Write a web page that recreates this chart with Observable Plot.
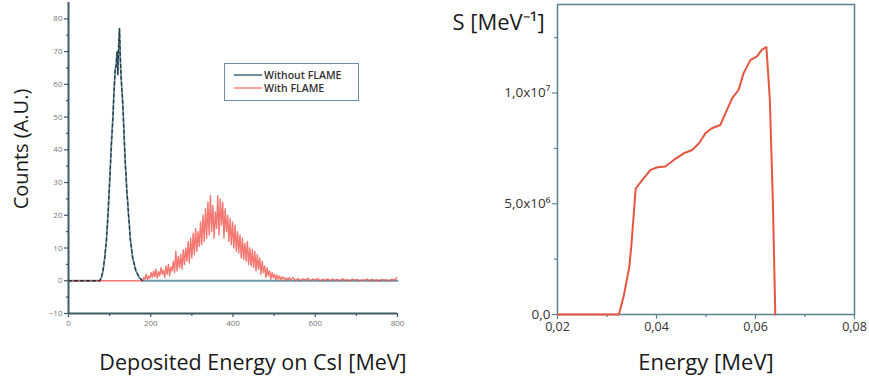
<!DOCTYPE html>
<html>
<head>
<meta charset="utf-8">
<script src="https://cdn.jsdelivr.net/npm/d3@7"></script>
<script src="https://cdn.jsdelivr.net/npm/@observablehq/plot@0.6"></script>
<style>
  html, body { margin: 0; padding: 0; background: #fff; }
  #wrap { position: relative; width: 869px; height: 381px; overflow: hidden; font-family: "Open Sans", sans-serif; }
  #left { position: absolute; left: 0; top: 0; }
  #right { position: absolute; left: 420px; top: 0; }
  #legend { position: absolute; left: 224px; top: 63px; width: 133px; height: 36px; border: 1px solid #6a8f9e; background: #fff; }
  .row { position: absolute; left: 0; height: 12px; width: 132px; }
  .sw { position: absolute; left: 9px; top: 5px; width: 28px; height: 2px; }
  .lab { position: absolute; left: 39px; top: 0px; font-size: 10.5px; font-weight: 600; color: #333; line-height: 12px; white-space: nowrap; }
</style>
</head>
<body>
<div id="wrap">
  <div id="left"></div>
  <div id="right"></div>
  <div id="legend"></div>
</div>
<script>
// ---------- Left chart data ----------
const leftYTicks = [-10, 0, 10, 20, 30, 40, 50, 60, 70, 80];
const leftYMinor = [-5, 5, 15, 25, 35, 45, 55, 65, 75];
const leftXTicks = [0, 200, 400, 600, 800];
const leftXMinor = [100, 300, 500, 700];

const seriesNames = ["Without FLAME", "With FLAME"];

const withoutEnergy = [0, 76, 80, 84, 88, 92, 96, 100, 104, 108, 110, 112, 114, 116, 118, 120, 122, 124, 126, 128, 130, 132, 134, 136, 138, 140, 142, 144, 146, 148, 150, 152, 154, 156, 158, 160, 164, 168, 172, 176, 180, 800];
const withoutCounts = [0, 0, 1, 3, 7, 12, 20, 30, 41, 50, 56, 61, 65, 66, 70, 63, 72, 77, 68, 62, 58, 54, 48, 42, 36, 32, 27, 24, 20, 17, 13, 11, 9, 7, 6, 5, 3, 2, 1, 0.5, 0, 0];

const withEnergy = [0, 177, ...d3.range(180, 541, 3), ...d3.range(546, 799, 6)];
const withCounts = [0, 0,
  0, 1, 0.5, 2, 0.3, 1.5, 0.8, 2.5, 1, 3,
  1.2, 3.5, 0.8, 2.8, 1.5, 4, 2, 3.2, 1, 4.5,
  2, 5, 1.5, 4.2, 3, 6, 2.5, 9, 3, 7.5,
  4, 8, 3.5, 9.5, 5, 10, 6, 12, 5.5, 13,
  7, 14.5, 8, 16, 9, 15, 10.5, 18, 11, 20,
  12, 22, 13, 24, 14, 26, 15, 23, 13, 21,
  16, 26, 14, 25, 17, 24, 13, 22, 15, 20,
  12, 19, 11, 18, 10, 17, 9, 15, 8.5, 14,
  7, 13, 6.5, 11.5, 6, 12, 5, 10, 4.5, 9.5,
  4, 9, 3, 8, 3.5, 7, 2, 6, 2.5, 4.5,
  1, 4, 1.5, 3, 0.5, 2.5, 1, 2, 0.3, 1.8,
  0.5, 1.5, 0.2, 1.2, 0.6, 1, 0, 0.8, 0.3, 1,
  0.2,
  0.9, 0.1, 0.7, 0, 0.6, 0.2, 0.8, 0, 0.5, 0.3,
  0.7, 0, 0.4, 0.1, 0.6, 0, 0.5, 0.2, 0.4, 0,
  0.6, 0.1, 0.3, 0, 0.5, 0.2, 0.4, 0, 0.3, 0.1,
  0.5, 0, 0.4, 0.1, 0.3, 0, 0.4, 0.2, 0.3, 0,
  0.5, 0.1, 0.9
];

// ---------- Right chart data ----------
const rightXTicks = [0.02, 0.04, 0.06, 0.08];
const rightXLabels = ["0,02", "0,04", "0,06", "0,08"];
const rightXMinor = [0.03, 0.05, 0.07];
const rightYTicks = [0, 5e6, 1e7];
const rightYLabels = ["0,0", "5,0x10⁶", "1,0x10⁷"];
const rightYMinor = [2.5e6, 7.5e6, 1.25e7];

const spectrumEnergy = [0.02, 0.0324, 0.0334, 0.0345, 0.0349, 0.0358, 0.0371, 0.0388, 0.0402, 0.0418, 0.0435, 0.0455, 0.0472, 0.0486, 0.0499, 0.0512, 0.0529, 0.0541, 0.0553, 0.0566, 0.0576, 0.0590, 0.0603, 0.0613, 0.0622, 0.0629, 0.0635, 0.0640];
const spectrumS = [0, 0, 0.86e6, 2.14e6, 3.05e6, 5.69e6, 6.07e6, 6.53e6, 6.65e6, 6.68e6, 6.98e6, 7.28e6, 7.43e6, 7.73e6, 8.19e6, 8.41e6, 8.56e6, 9.17e6, 9.77e6, 10.15e6, 10.9e6, 11.5e6, 11.66e6, 11.96e6, 12.08e6, 9.7e6, 5.17e6, 0];

// ---------- Colors ----------
const axisColor = "#3d5a66";
const tealColor = "#6c9aab";
const blackColor = "#27353b";
const redColor = "#f0443a";

const withoutData = withoutEnergy.map((e, i) => ({e, c: withoutCounts[i]}));
const withData = withEnergy.map((e, i) => ({e, c: withCounts[i]}));
const spectrum = spectrumEnergy.map((e, i) => ({e, s: spectrumS[i]}));

const left = Plot.plot({
  width: 420, height: 381,
  marginLeft: 68, marginRight: 23, marginTop: 2, marginBottom: 68,
  x: {domain: [0, 800]},
  y: {domain: [-10, 85]},
  style: {fontFamily: "Open Sans, sans-serif", background: "transparent"},
  marks: [
    Plot.line(withoutData, {x: "e", y: "c", stroke: tealColor, strokeWidth: 1.8}),
    Plot.line(withData, {x: "e", y: "c", stroke: redColor, strokeWidth: 1.4, strokeOpacity: 0.72}),
    Plot.line(withoutData.filter((d) => d.e < 200), {x: "e", y: "c", stroke: blackColor, strokeWidth: 1.3, strokeDasharray: "3,3"}),
    Plot.axisY(leftYTicks, {tickSize: 4, tickPadding: 2, fontSize: 8, fill: "#777", stroke: axisColor, strokeWidth: 1.2, label: null}),
    Plot.axisY(leftYMinor, {tickSize: 2, text: null, stroke: axisColor, strokeWidth: 1.2, label: null}),
    Plot.axisX(leftXTicks, {tickSize: 4, tickPadding: 3, fontSize: 8, fill: "#777", stroke: axisColor, strokeWidth: 1.2, label: null}),
    Plot.axisX(leftXMinor, {tickSize: 3, text: null, stroke: axisColor, strokeWidth: 1.2, label: null}),
    Plot.ruleX([0], {stroke: axisColor, strokeWidth: 2}),
    Plot.ruleY([-10], {stroke: axisColor, strokeWidth: 2}),
    Plot.text(["Counts (A.U.)"], {frameAnchor: "left", textAnchor: "middle", lineAnchor: "middle", rotate: -90, dx: -47, dy: -9, fontSize: 20, fill: "#1a1a1a"}),
    Plot.text(["Deposited Energy on CsI [MeV]"], {frameAnchor: "bottom", textAnchor: "middle", lineAnchor: "middle", dx: 20, dy: 50, fontSize: 21.5, fill: "#1a1a1a"})
  ]
});
document.getElementById("left").appendChild(left);

const right = Plot.plot({
  width: 449, height: 381,
  marginLeft: 137, marginRight: 15, marginTop: 4, marginBottom: 67,
  x: {domain: [0.02, 0.08]},
  y: {domain: [0, 1.4e7]},
  style: {fontFamily: "Open Sans, sans-serif", background: "transparent"},
  marks: [
    Plot.frame({stroke: "#5b8291", strokeWidth: 1.5}),
    Plot.axisY(rightYTicks, {tickSize: 5, tickPadding: 2, fontSize: 13.5, fill: "#333", stroke: "#5b8291", strokeWidth: 1.2, label: null,
      tickFormat: (d) => rightYLabels[rightYTicks.indexOf(d)]}),
    Plot.axisY(rightYMinor, {tickSize: 3, text: null, stroke: "#5b8291", strokeWidth: 1.2, label: null}),
    Plot.axisX(rightXTicks, {tickSize: 5, tickPadding: 3, fontSize: 12.5, fill: "#333", stroke: "#5b8291", strokeWidth: 1.2, label: null,
      tickFormat: (d) => rightXLabels[rightXTicks.indexOf(d)]}),
    Plot.axisX(rightXMinor, {tickSize: 3, text: null, stroke: "#5b8291", strokeWidth: 1.2, label: null}),
    Plot.line(spectrum, {x: "e", y: "s", stroke: "#e8553f", strokeWidth: 2}),
    Plot.text(["S [MeV⁻¹]"], {frameAnchor: "top-left", textAnchor: "start", lineAnchor: "middle", dx: -105, dy: 18, fontSize: 22, fill: "#1a1a1a"}),
    Plot.text(["Energy [MeV]"], {frameAnchor: "bottom", textAnchor: "middle", lineAnchor: "middle", dy: 48, fontSize: 22, fill: "#1a1a1a"})
  ]
});
document.getElementById("right").appendChild(right);

// Legend
const legend = document.getElementById("legend");
const legendColors = ["#6f8fa0", "#f7a3a3"];
seriesNames.forEach((name, i) => {
  const row = document.createElement("div");
  row.className = "row";
  row.style.top = (5 + i * 13) + "px";
  const sw = document.createElement("div");
  sw.className = "sw";
  sw.style.background = legendColors[i];
  const lab = document.createElement("div");
  lab.className = "lab";
  lab.textContent = name;
  row.appendChild(sw);
  row.appendChild(lab);
  legend.appendChild(row);
});
</script>
</body>
</html>
